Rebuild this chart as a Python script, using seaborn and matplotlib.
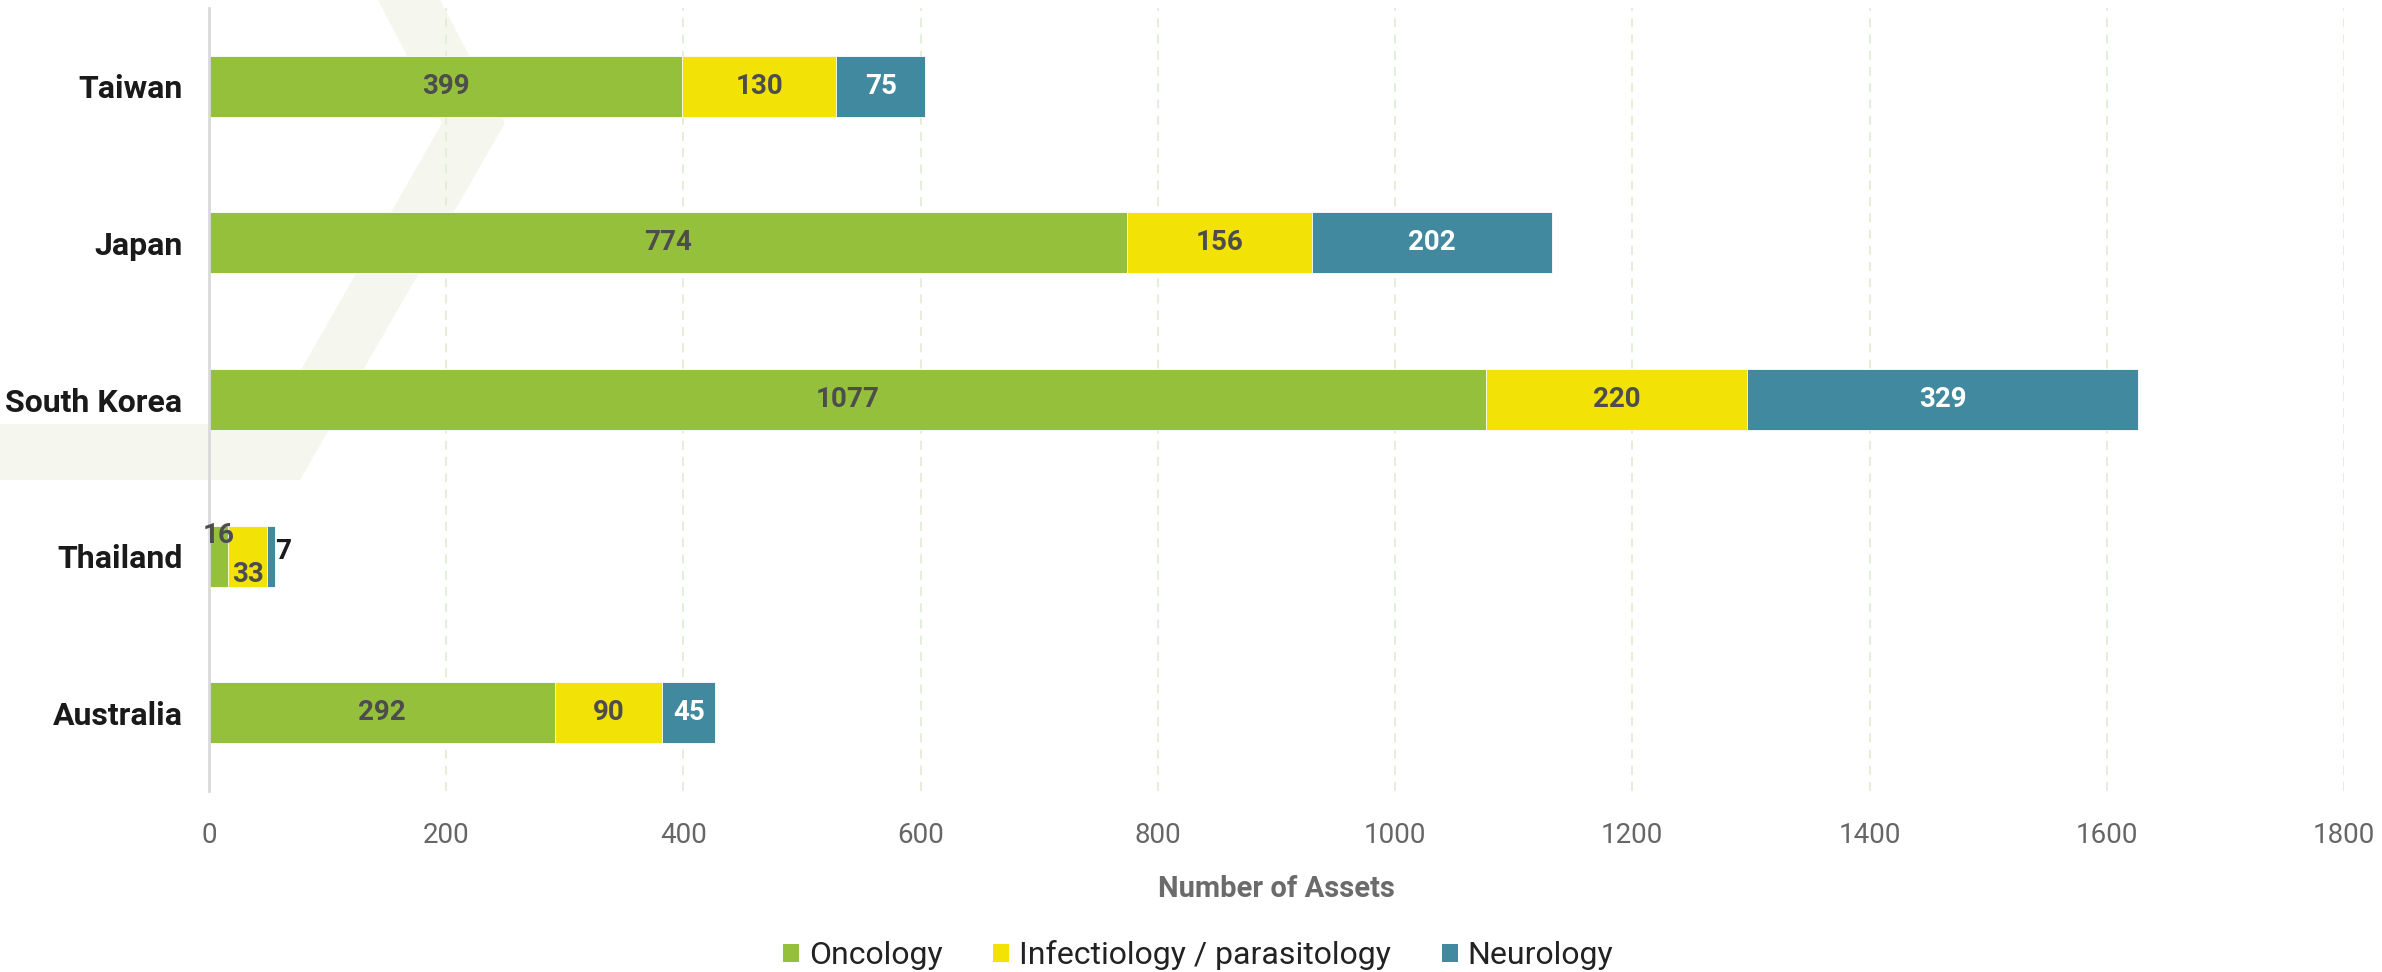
import numpy as np
import pandas as pd
import matplotlib
matplotlib.use("Agg")
import matplotlib.pyplot as plt
from matplotlib.patches import Patch, Polygon
import seaborn as sns

# Datos
paises = ["Taiwan", "Japan", "South Korea", "Thailand", "Australia"]
oncologia = [399, 774, 1077, 16, 292]
infecciones = [130, 156, 220, 33, 90]
neurologia = [75, 202, 329, 7, 45]
series = ["Oncology", "Infectiology / parasitology", "Neurology"]
colores = ["#95C03C", "#F2E205", "#40899E"]
x_ticks = [0, 200, 400, 600, 800, 1000, 1200, 1400, 1600, 1800]

df = pd.DataFrame({"pais": paises, "Oncology": oncologia,
                   "Infectiology / parasitology": infecciones,
                   "Neurology": neurologia})
df["acum1"] = df["Oncology"]
df["acum2"] = df["acum1"] + df["Infectiology / parasitology"]
df["acum3"] = df["acum2"] + df["Neurology"]

sns.set_theme(style="white")
plt.rcParams["font.family"] = ["Roboto", "DejaVu Sans"]

W, H = 2382, 972
fig = plt.figure(figsize=(W / 100, H / 100), dpi=100)
fig.patch.set_facecolor("white")

# marca de agua de fondo
pts = [(378, 0), (440, 0), (505, 123), (300, 480), (0, 480), (0, 424),
       (270, 424), (442, 123)]
fig.add_artist(Polygon([(x / W, 1 - y / H) for x, y in pts], closed=True,
                       transform=fig.transFigure, facecolor="#F5F7EE",
                       edgecolor="none", zorder=0))

ax = fig.add_axes([209 / W, 1 - 791 / H, (2344 - 209) / W, 783 / H])
ax.patch.set_alpha(0)

# barras apiladas: se dibuja el total y se superponen los acumulados
for col, color in zip(["acum3", "acum2", "acum1"], colores[::-1]):
    sns.barplot(data=df, y="pais", x=col, orient="h", color=color,
                width=0.39, saturation=1, edgecolor="white", linewidth=0.6,
                ax=ax, zorder=3)

# etiquetas de valores
ajustes = {("Thailand", 0): (0, -0.13), ("Thailand", 1): (0, 0.12),
           ("Thailand", 2): (10, -0.03)}
for i, row in df.iterrows():
    inicio = 0
    for j, s in enumerate(series):
        v = row[s]
        xc = inicio + v / 2
        dx, dy = ajustes.get((row["pais"], j), (0, 0))
        color_txt = "white" if j == 2 else "#4D4D4D"
        if row["pais"] == "Thailand" and j == 2:
            color_txt = "#1A1A1A"
        ax.text(xc + dx, i + dy, str(v), ha="center", va="center",
                fontsize=20, fontweight="bold", color=color_txt, zorder=5)
        inicio += v

ax.set_xlim(0, 1800)
ax.set_ylim(4.5, -0.5)
ax.set_xticks(x_ticks)
ax.set_xticklabels([str(t) for t in x_ticks])
ax.tick_params(axis="x", length=0, pad=22, labelsize=20, labelcolor="#666666")
ax.tick_params(axis="y", length=0, pad=19, labelsize=23)
for lbl in ax.get_yticklabels():
    lbl.set_fontweight("bold")
    lbl.set_color("#1A1A1A")

ax.xaxis.grid(True, linestyle=(0, (5, 4)), color="#E1EED6", linewidth=1.3,
              zorder=1)
ax.yaxis.grid(False)
ax.set_axisbelow(True)
for lado in ["top", "right", "bottom"]:
    ax.spines[lado].set_visible(False)
ax.spines["left"].set_color("#D9D9D9")
ax.spines["left"].set_linewidth(2)
ax.spines["left"].set_zorder(4)

ax.set_ylabel("")
ax.set_xlabel("Number of Assets", fontsize=21, fontweight="bold",
              color="#6B6B6B", labelpad=19)

handles = [Patch(facecolor=c, edgecolor="none", label=s)
           for s, c in zip(series, colores)]
fig.legend(handles=handles, loc="lower center", bbox_to_anchor=(0.503, -0.028),
           ncol=3, frameon=False, fontsize=23, handlelength=0.5,
           handleheight=0.5, handletextpad=0.3, columnspacing=1.6,
           labelcolor="#222222")

fig.savefig("out.png", dpi=100)
